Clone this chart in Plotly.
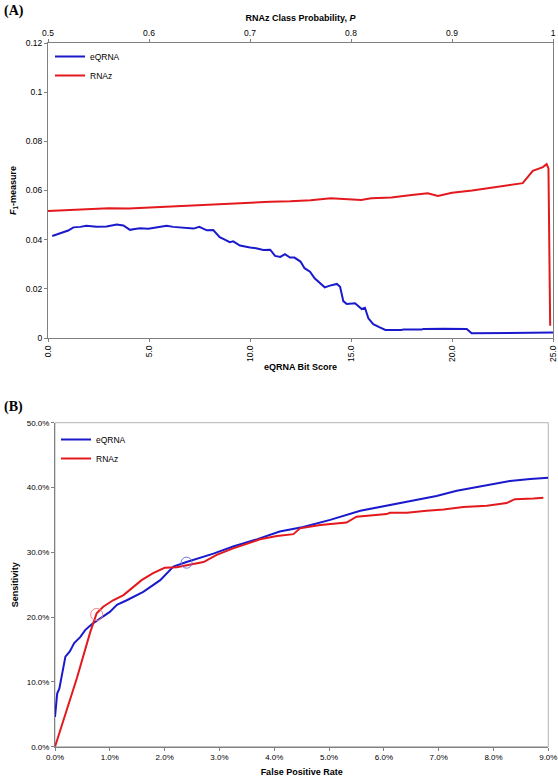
import plotly.graph_objects as go

# ---------------- Panel A data ----------------
eqrna_bit_score = [0.21, 0.5, 0.76, 1.0, 1.26, 1.6, 1.9, 2.15, 2.4, 2.9, 3.15, 3.4, 3.73, 4.06, 4.3,
                   4.55, 4.97, 5.2, 5.46, 5.87, 6.2, 6.5, 6.87, 7.2, 7.49, 7.86, 8.18, 8.5, 8.75, 9.0,
                   9.17, 9.5, 10.0, 10.3, 10.66, 11.0, 11.24, 11.5, 11.73, 11.98, 12.2, 12.5, 12.7,
                   12.97, 13.2, 13.47, 13.7, 13.96, 14.3, 14.46, 14.62, 14.79, 15.2, 15.53, 15.69,
                   15.86, 16.1, 16.4, 16.7, 17.5, 17.6, 18.5, 18.6, 19.57, 20.73, 20.97, 22.05, 22.1, 25.0]
eqrna_f1 = [0.0415, 0.0422, 0.0430, 0.0437, 0.0450, 0.0452, 0.0457, 0.0454, 0.0453, 0.0454, 0.0458,
            0.0462, 0.0458, 0.0440, 0.0443, 0.0446, 0.0444, 0.0448, 0.0453, 0.0457, 0.0452, 0.0450,
            0.0449, 0.0445, 0.0452, 0.0438, 0.0439, 0.0410, 0.0400, 0.0390, 0.0393, 0.0376, 0.0368,
            0.0365, 0.0358, 0.0359, 0.0334, 0.0330, 0.0341, 0.0327, 0.0327, 0.0311, 0.0284, 0.0270,
            0.0243, 0.0225, 0.0206, 0.0213, 0.0220, 0.0208, 0.0150, 0.0138, 0.0141, 0.0118, 0.0123,
            0.0080, 0.0056, 0.0044, 0.0033, 0.0033, 0.0035, 0.0035, 0.0037, 0.0038, 0.0037, 0.0019,
            0.0019, 0.0022, 0.0022]

rnaz_probability = [0.50, 0.52, 0.54, 0.56, 0.58, 0.60, 0.62, 0.64, 0.66, 0.68, 0.70, 0.72, 0.74,
                    0.76, 0.78, 0.80, 0.81, 0.82, 0.84, 0.86, 0.876, 0.886, 0.90, 0.92, 0.94, 0.96,
                    0.97, 0.98, 0.99, 0.9937, 0.9955, 0.9972]
rnaz_f1 = [0.0517, 0.0520, 0.0524, 0.0528, 0.0527, 0.0531, 0.0535, 0.0538, 0.0542, 0.0547, 0.0551,
           0.0554, 0.0556, 0.0560, 0.0568, 0.0564, 0.0561, 0.0568, 0.0572, 0.0582, 0.0589, 0.0578,
           0.0591, 0.0600, 0.0612, 0.0623, 0.0630, 0.0680, 0.0695, 0.0707, 0.0690, 0.0050]

bit_score_ticks = [0, 5, 10, 15, 20, 25]
bit_score_tick_labels = ["0.0", "5.0", "10.0", "15.0", "20.0", "25.0"]
probability_ticks = [0.5, 0.6, 0.7, 0.8, 0.9, 1.0]
probability_tick_labels = ["0.5", "0.6", "0.7", "0.8", "0.9", "1"]
f1_ticks = [0, 0.02, 0.04, 0.06, 0.08, 0.1, 0.12]
f1_tick_labels = ["0", "0.02", "0.04", "0.06", "0.08", "0.1", "0.12"]

# ---------------- Panel B data (percent) ----------------
eqrna_fpr = [0.0, 0.02, 0.04, 0.08, 0.12, 0.16, 0.19, 0.27, 0.35, 0.46, 0.55, 0.67, 0.82, 1.0, 1.13,
             1.31, 1.61, 1.92, 2.16, 2.4, 2.89, 3.25, 3.68, 4.1, 4.53, 5.02, 5.57, 5.93, 6.54, 6.96,
             7.33, 7.88, 8.3, 8.67, 9.0]
eqrna_sens = [4.6, 6.4, 8.2, 9.0, 10.8, 12.6, 13.9, 14.7, 16.0, 16.9, 18.0, 18.9, 19.8, 20.8, 21.9,
              22.6, 23.9, 25.7, 27.8, 28.5, 29.8, 30.9, 32.0, 33.2, 33.9, 35.0, 36.4, 37.0, 38.0,
              38.7, 39.5, 40.4, 41.0, 41.3, 41.5]

rnaz_fpr = [0.0, 0.21, 0.40, 0.64, 0.76, 0.88, 1.06, 1.25, 1.43, 1.58, 1.79, 2.0, 2.22, 2.4, 2.71,
            2.95, 3.25, 3.74, 4.05, 4.35, 4.47, 4.84, 5.32, 5.5, 6.05, 6.11, 6.42, 6.78, 7.09, 7.45,
            7.88, 8.24, 8.39, 8.73, 8.91]
rnaz_sens = [0.0, 5.4, 10.6, 17.6, 20.6, 21.6, 22.6, 23.4, 24.7, 25.7, 26.8, 27.6, 27.7, 28.0, 28.5,
             29.6, 30.6, 32.0, 32.5, 32.8, 33.7, 34.2, 34.6, 35.5, 35.9, 36.1, 36.1, 36.4, 36.6,
             37.0, 37.2, 37.6, 38.2, 38.3, 38.4]

eqrna_marked_fpr = [2.4]
eqrna_marked_sens = [28.4]
rnaz_marked_fpr = [0.76]
rnaz_marked_sens = [20.4]

fpr_ticks = [0, 1, 2, 3, 4, 5, 6, 7, 8, 9]
fpr_tick_labels = ["0.0%", "1.0%", "2.0%", "3.0%", "4.0%", "5.0%", "6.0%", "7.0%", "8.0%", "9.0%"]
sens_ticks = [0, 10, 20, 30, 40, 50]
sens_tick_labels = ["0.0%", "10.0%", "20.0%", "30.0%", "40.0%", "50.0%"]

BLUE = "#1a1acc"
RED = "#e3191e"
AXIS = "#808080"
FONT = "Liberation Sans, Arial, sans-serif"
W, H = 558, 777

fig = go.Figure()

fig.add_trace(go.Scatter(x=eqrna_bit_score, y=eqrna_f1, mode="lines", name="eQRNA",
                         line=dict(color=BLUE, width=2), xaxis="x", yaxis="y", legend="legend"))
fig.add_trace(go.Scatter(x=rnaz_probability, y=rnaz_f1, mode="lines", name="RNAz",
                         line=dict(color=RED, width=2), xaxis="x3", yaxis="y", legend="legend"))

fig.add_trace(go.Scatter(x=eqrna_fpr, y=eqrna_sens, mode="lines", name="eQRNA",
                         line=dict(color=BLUE, width=2), xaxis="x2", yaxis="y2", legend="legend2"))
fig.add_trace(go.Scatter(x=rnaz_fpr, y=rnaz_sens, mode="lines", name="RNAz",
                         line=dict(color=RED, width=2), xaxis="x2", yaxis="y2", legend="legend2"))
fig.add_trace(go.Scatter(x=eqrna_marked_fpr, y=eqrna_marked_sens, mode="markers", showlegend=False,
                         marker=dict(symbol="circle-open", size=11, color="#7070e0", line=dict(width=1)),
                         xaxis="x2", yaxis="y2"))
fig.add_trace(go.Scatter(x=rnaz_marked_fpr, y=rnaz_marked_sens, mode="markers", showlegend=False,
                         marker=dict(symbol="circle-open", size=12, color="#f08080", line=dict(width=1)),
                         xaxis="x2", yaxis="y2"))

tickfontA = dict(family=FONT, size=8.5, color="#000000")
tickfontB = dict(family=FONT, size=8, color="#000000")
titlefont = dict(family=FONT, size=9, color="#000000")

axA_x = [48 / W, 553 / W]
axA_y = [1 - 338 / H, 1 - 43 / H]
axB_x = [55 / W, 548.3 / W]
axB_y = [1 - 746.7 / H, 1 - 422.7 / H]

common = dict(showgrid=False, zeroline=False, showline=True, linecolor=AXIS, linewidth=1,
              ticks="outside", ticklen=3, tickcolor=AXIS, automargin=False,
              tickmode="array", ticklabeloverflow="allow")

fig.update_layout(
    width=W, height=H, margin=dict(l=0, r=0, t=0, b=0),
    paper_bgcolor="white", plot_bgcolor="white",
    font=dict(family=FONT, size=9, color="#000000"),
    xaxis=dict(domain=axA_x, anchor="y", range=[0, 25], tickvals=bit_score_ticks,
               ticktext=bit_score_tick_labels, tickangle=-90, tickfont=tickfontA,
               title=dict(text="<b>eQRNA Bit Score</b>", font=titlefont, standoff=2), **common),
    xaxis3=dict(overlaying="x", side="top", anchor="y", range=[0.5, 1.0], tickvals=probability_ticks,
                ticktext=probability_tick_labels, tickfont=tickfontA,
                title=dict(text="<b>RNAz Class Probability, <i>P</i></b>", font=titlefont, standoff=4),
                **common),
    yaxis=dict(domain=axA_y, anchor="x", range=[0, 0.12], tickvals=f1_ticks, ticktext=f1_tick_labels,
               mirror=True, tickfont=tickfontA,
               title=dict(text="<b><i>F</i><sub>1</sub>-measure</b>", font=titlefont, standoff=7),
               **common),
    xaxis2=dict(domain=axB_x, anchor="y2", range=[0, 9], tickvals=fpr_ticks, ticktext=fpr_tick_labels,
                tickfont=tickfontB,
                title=dict(text="<b>False Positive Rate</b>", font=titlefont, standoff=9), **common),
    yaxis2=dict(domain=axB_y, anchor="x2", range=[0, 50], tickvals=sens_ticks, ticktext=sens_tick_labels,
                tickfont=tickfontB,
                title=dict(text="<b>Sensitivity</b>", font=titlefont, standoff=6), **common),
    legend=dict(x=50 / W, y=1 - 42 / H, xanchor="left", yanchor="top", bgcolor="rgba(0,0,0,0)",
                font=dict(family=FONT, size=8.5), itemwidth=30, tracegroupgap=0),
    legend2=dict(x=56 / W, y=1 - 425 / H, xanchor="left", yanchor="top", bgcolor="rgba(0,0,0,0)",
                 font=dict(family=FONT, size=8.5), itemwidth=30, tracegroupgap=0),
    shapes=[dict(type="rect", xref="x2 domain", yref="y2 domain", x0=0, x1=1, y0=0, y1=1,
                 line=dict(color="#b4b4b4", width=1), layer="below")],
    annotations=[
        dict(text="<b>(A)</b>", x=2 / W, y=1 - 1 / H, xref="paper", yref="paper", xanchor="left",
             yanchor="top", showarrow=False, font=dict(family="Liberation Serif, Times New Roman, serif",
                                                         size=14, color="#000000")),
        dict(text="<b>(B)</b>", x=2 / W, y=1 - 397 / H, xref="paper", yref="paper", xanchor="left",
             yanchor="top", showarrow=False, font=dict(family="Liberation Serif, Times New Roman, serif",
                                                         size=14, color="#000000")),
    ],
)

fig.write_html("out.html", config={"displayModeBar": False},
               post_script="document.body.style.margin='0';")
